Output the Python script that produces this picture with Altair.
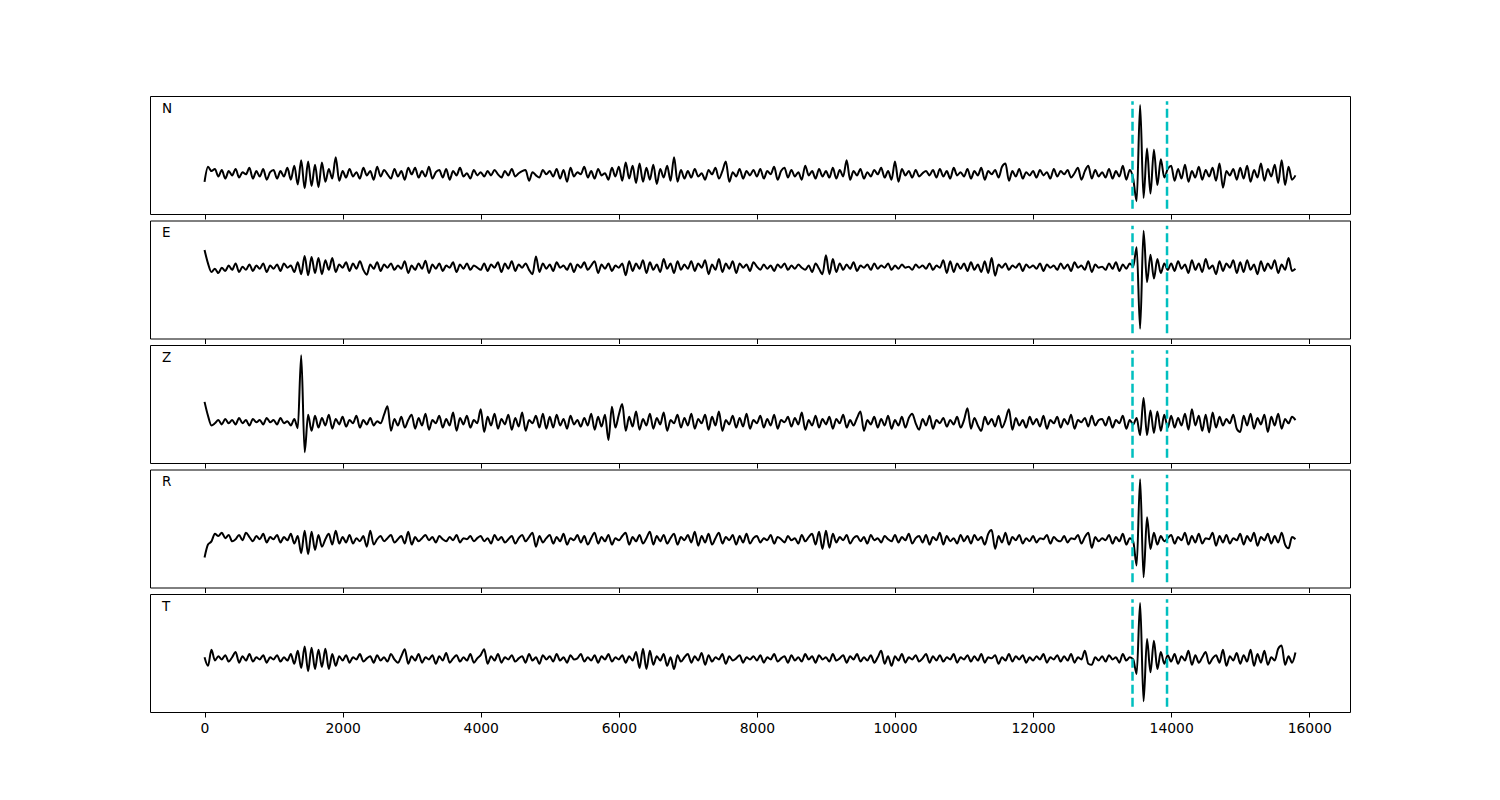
import altair as alt
import pandas as pd

# ---------------- data (amplitudes; pick lines span -100..100) -------------
SAMPLE_STEP = 50          # time step between samples
COMPONENTS = ["N", "E", "Z", "R", "T"]
PICK_TIMES = [13440, 13940]
PICK_LOW, PICK_HIGH = -100, 100
X_TICKS = [0, 2000, 4000, 6000, 8000, 10000, 12000, 14000, 16000]

trace_N = [
    -50, -22, -30, -26, -40, -28, -44, -30, -38, -26, -42, -32, -36, -24, -44, -30, -40, -26, -46, -32,
    -28, -44, -30, -40, -24, -46, -20, -55, -10, -62, -12, -58, -18, -60, -14, -50, -26, -44, -4, -48,
    -30, -42, -26, -40, -32, -44, -24, -38, -30, -46, -22, -40, -28, -36, -44, -26, -40, -30, -46, -24,
    -36, -24, -42, -30, -40, -22, -44, -32, -28, -42, -26, -46, -30, -38, -24, -40, -34, -44, -28, -38,
    -32, -40, -30, -38, -28, -36, -42, -30, -38, -26, -40, -34, -30, -28, -48, -32, -38, -42, -28, -36,
    -30, -40, -26, -44, -28, -50, -24, -40, -32, -36, -22, -42, -30, -44, -26, -38, -34, -46, -24, -40,
    -22, -48, -14, -44, -20, -52, -16, -50, -24, -46, -18, -54, -26, -42, -20, -48, -4, -50, -28, -44,
    -30, -42, -26, -40, -34, -46, -28, -36, -24, -44, -30, -12, -50, -32, -40, -26, -44, -30, -38, -28,
    -40, -26, -44, -30, -36, -22, -46, -30, -24, -42, -28, -40, -32, -46, -20, -38, -30, -44, -26, -40,
    -30, -42, -24, -44, -28, -40, -10, -46, -30, -38, -26, -44, -32, -40, -28, -36, -24, -42, -30, -46,
    -12, -50, -26, -38, -30, -42, -28, -40, -34, -30, -38, -28, -42, -26, -40, -30, -44, -24, -38, -32,
    -40, -26, -44, -30, -38, -24, -46, -30, -36, -28, -42, -22, -16, -48, -30, -40, -26, -44, -32, -38,
    -30, -42, -28, -38, -32, -44, -26, -40, -30, -36, -28, -42, -34, -24, -46, -30, -20, -44, -28, -40,
    -32, -42, -26, -44, -30, -40, -20, -46, -28, -44, -86, 93, -80, 12, -72, 10, -56, -8, -42, -26,
    -20, -48, -26, -44, -18, -50, -30, -42, -22, -46, -28, -40, -24, -48, -16, -61, -30, -38, -26, -46,
    -24, -44, -20, -50, -28, -42, -16, -48, -26, -40, -18, -52, -10, -56, -22, -46, -38,
]

trace_E = [
    55, 30, 14, 20, 12, 22, 16, 26, 18, 30, 14, 24, 18, 28, 16, 26, 20, 30, 14, 26,
    20, 28, 16, 30, 22, 26, 14, 32, 10, 44, 8, 42, 12, 40, 10, 36, 18, 40, 14, 28,
    22, 32, 16, 30, 20, 34, 18, 9, 28, 20, 32, 16, 28, 22, 30, 18, 26, 20, 34, 12,
    26, 18, 30, 20, 35, 12, 28, 20, 30, 16, 26, 22, 32, 14, 28, 20, 30, 18, 26, 22,
    18, 30, 16, 28, 22, 32, 14, 30, 20, 34, 16, 28, 22, 30, 18, 10, 43, 14, 30, 20,
    28, 16, 32, 22, 26, 18, 30, 14, 28, 22, 32, 18, 26, 34, 12, 28, 20, 30, 16, 26,
    22, 30, 8, 34, 16, 30, 20, 36, 12, 32, 18, 28, 14, 38, 20, 30, 12, 34, 18, 28,
    20, 34, 16, 30, 22, 36, 10, 28, 18, 38, 14, 30, 20, 34, 12, 30, 22, 28, 16, 32,
    24, 18, 28, 20, 26, 16, 28, 22, 30, 18, 26, 20, 28, 22, 18, 26, 14, 30, 20, 10,
    45, 10, 38, 14, 30, 18, 28, 20, 32, 16, 26, 22, 28, 18, 30, 20, 26, 22, 30, 18,
    26, 20, 28, 22, 24, 18, 28, 22, 26, 20, 30, 18, 26, 22, 36, 12, 34, 14, 30, 20,
    30, 16, 32, 18, 28, 14, 34, 12, 40, 7, 28, 22, 30, 18, 26, 22, 30, 16, 28, 22,
    26, 20, 30, 16, 28, 22, 26, 18, 30, 20, 28, 16, 32, 22, 26, 18, 34, 14, 28, 22,
    24, 18, 30, 20, 32, 16, 28, 20, 30, 24, 60, -92, 91, -5, 46, 2, 38, 12, 30, 18,
    30, 16, 34, 20, 28, 12, 36, 18, 30, 14, 38, 20, 26, 10, 34, 16, 30, 22, 36, 12,
    32, 14, 36, 18, 28, 10, 34, 16, 30, 20, 36, 12, 28, 18, 40, 16, 20,
]

trace_Z = [
    4, -22, -40, -36, -30, -38, -28, -36, -30, -38, -26, -36, -30, -40, -28, -34, -30, -38, -26, -34,
    -30, -38, -26, -36, -32, -40, -28, -45, 91, -90, -20, -50, -22, -44, -26, -40, -20, -46, -28, -38,
    -24, -42, -30, -36, -22, -44, -30, -38, -26, -40, -32, -36, -20, -4, -50, -28, -40, -24, -44, -30,
    -20, -46, -26, -40, -18, -48, -30, -36, -22, -44, -28, -40, -16, -50, -26, -38, -22, -44, -30, -36,
    -10, -52, -24, -40, -18, -46, -28, -38, -20, -48, -26, -42, -16, -50, -30, -36, -22, -44, -18, -46,
    -24, -44, -20, -40, -28, -46, -22, -38, -30, -42, -26, -40, -18, -48, -24, -42, -20, -67, -5, -44,
    -20, 0, -50, -24, -42, -14, -48, -28, -40, -18, -46, -26, -38, -16, -50, -30, -36, -20, -44, -26,
    -40, -18, -46, -28, -36, -20, -48, -24, -40, -14, -50, -30, -38, -22, -44, -26, -42, -18, -46, -30,
    -36, -22, -44, -28, -40, -20, -46, -30, -34, -24, -42, -26, -38, -16, -48, -30, -40, -22, -44, -28,
    -38, -24, -46, -28, -36, -20, -44, -30, -40, -26, -14, -50, -30, -38, -24, -44, -28, -40, -22, -46,
    -30, -40, -24, -44, -26, -18, -36, -48, -28, -40, -22, -46, -30, -36, -26, -42, -30, -38, -24, -44,
    -30, -8, -46, -26, -40, -50, -24, -38, -28, -42, -22, -44, -30, -10, -48, -26, -40, -30, -44, -24,
    -38, -28, -42, -22, -46, -30, -36, -24, -44, -28, -38, -20, -46, -30, -34, -26, -42, -22, -40, -30,
    -28, -40, -24, -44, -30, -36, -22, -46, -30, -38, -26, -58, 11, -58, -12, -54, -14, -50, -20, -44,
    -22, -44, -26, -40, -18, -48, -10, -40, -22, -50, -20, -53, -16, -44, -24, -40, -28, -36, -20, -46,
    -52, -22, -40, -18, -46, -26, -38, -20, -52, -24, -40, -18, -46, -28, -36, -24, -30,
]

trace_R = [
    -54, -30, -24, -10, -14, -8, -18, -12, -24, -20, -12, -22, -8, -16, -24, -14, -20, -10, -26, -16,
    -20, -12, -26, -16, -22, -10, -28, -14, -46, -4, -48, -6, -40, -12, -34, -20, -10, -30, -4, -28,
    -16, -26, -12, -28, -18, -24, -14, -34, -4, -30, -20, -14, -24, -18, -12, -26, -20, -14, -28, -6,
    -30, -16, -24, -18, -12, -22, -16, -26, -14, -20, -24, -16, -22, -12, -26, -18, -20, -14, -24, -18,
    -14, -24, -18, -28, -12, -22, -16, -26, -20, -14, -28, -18, -12, -24, -16, -8, -34, -14, -26, -18,
    -12, -28, -16, -24, -10, -30, -18, -22, -12, -26, -14, -30, -18, -8, -28, -16, -24, -12, -30, -18,
    -22, -14, -8, -30, -16, -24, -12, -28, -18, -6, -30, -14, -24, -12, -28, -18, -10, -30, -16, -22,
    -12, -26, -6, -32, -14, -26, -10, -30, -18, -8, -28, -16, -22, -12, -30, -14, -26, -10, -28, -18,
    -14, -26, -18, -22, -12, -28, -16, -20, -26, -14, -22, -18, -28, -12, -24, -16, -10, -30, -6, -38,
    -4, -36, -10, -26, -16, -22, -12, -28, -18, -14, -24, -16, -28, -12, -22, -18, -26, -14, -20, -24,
    -12, -26, -16, -22, -10, -28, -18, -14, -26, -12, -30, -16, -22, -8, -30, -14, -24, -18, -28, -12,
    -24, -14, -28, -12, -22, -16, -30, -10, -3, -38, -14, -26, -8, -30, -16, -22, -12, -28, -18, -24,
    -14, -26, -18, -20, -12, -28, -16, -22, -24, -14, -26, -18, -20, -12, -28, -16, -8, -36, -16, -24,
    -18, -22, -12, -28, -16, -24, -10, -30, -18, -24, -69, 92, -91, 21, -38, -8, -30, -14, -24, -18,
    -12, -28, -16, -22, -8, -30, -14, -26, -10, -28, -18, -20, -8, -32, -14, -26, -12, -28, -18, -22,
    -10, -30, -14, -24, -8, -32, -16, -22, -10, -28, -14, -26, -8, -30, -37, -16, -20,
]

trace_T = [
    -8, -24, 6, -14, -6, -12, -4, -16, -8, 2, -18, -6, -14, -2, -16, -8, -12, -4, -18, -8,
    -12, -4, -16, -8, -14, -2, -20, 4, -28, 12, -34, 10, -30, 6, -26, 8, -30, -2, -24, -6,
    -14, -4, -18, -8, -12, -2, -16, -10, -6, -18, -4, -14, -8, -16, -2, -12, -18, -6, 7, -20,
    -6, -14, -2, -18, -8, -12, -4, -20, -6, -14, 0, -18, -10, -4, -16, -8, -14, -2, -18, -10,
    -4, 7, -20, -6, -14, -2, -18, -8, -12, -4, -16, -10, -6, -18, -2, -14, -8, -20, -4, -12,
    -6, -16, -2, -14, -8, -18, -4, -12, -10, -2, -16, -8, -14, -4, -18, -6, -12, -2, -16, -8,
    -12, -4, -18, -6, -14, 2, -28, 8, -30, 4, -22, -6, -14, -2, -24, -8, -30, -4, -16, -8,
    -2, -18, -6, -14, 0, -22, -4, -16, -8, -12, -2, -20, -6, -14, -10, -4, -18, -8, -12, -6,
    -14, -4, -18, -8, -12, -2, -16, -10, -6, -18, -4, -14, -8, -16, -2, -12, -6, -18, -4, -12,
    -8, -16, -2, -14, -10, -4, -18, -6, -12, -2, -16, -8, -14, -4, -18, -8, 4, -20, -6, -24,
    -6, -14, -2, -18, -8, -12, -4, -16, -10, -2, -18, -6, -14, -4, -16, -8, -12, -2, -18, -8,
    -12, -4, -16, -6, -14, -2, -18, -8, -10, -4, -20, -8, -14, -2, -16, -6, -12, -4, -18, -8,
    -14, -6, -12, -2, -18, -8, -12, -4, -16, -6, -14, -2, -18, -8, -12, 4, -20, -22, -8, -14,
    -6, -16, -4, -12, -8, -18, -2, -14, -8, -12, -39, 93, -90, 26, -36, 23, -30, 2, -20, -4,
    -16, -2, -20, -6, -14, 4, -22, -4, -18, -8, 2, -20, -10, -4, -18, 6, -24, -6, -14, 0,
    -20, -4, -16, 6, -24, -2, -18, 4, -22, -8, -14, 8, 14, -22, -6, -18, 1,
]

TRACES = {"N": trace_N, "E": trace_E, "Z": trace_Z, "R": trace_R, "T": trace_T}

# ---------------- chart ----------------
PANEL_W, PANEL_H = 1200, 118
X_DOMAIN = [-790, 16590]
Y_DOMAIN = [-110, 110]
FRAME = alt.ViewBackground(stroke="black", strokeWidth=1, fill="white")

picks_df = pd.DataFrame({"t": PICK_TIMES, "y1": [PICK_LOW] * len(PICK_TIMES),
                         "y2": [PICK_HIGH] * len(PICK_TIMES)})

panels = []
for i, comp in enumerate(COMPONENTS):
    vals = TRACES[comp]
    df = pd.DataFrame({"t": [k * SAMPLE_STEP for k in range(len(vals))], "amp": vals})
    last = i == len(COMPONENTS) - 1
    x_axis = alt.Axis(values=X_TICKS, labels=last, ticks=True, title=None,
                      format="d", domain=False, grid=False,
                      labelFont="DejaVu Sans", labelFontSize=13.9, labelColor="black",
                      tickColor="black", tickWidth=1, tickSize=5, labelPadding=4)
    xenc = alt.X("t:Q", scale=alt.Scale(domain=X_DOMAIN, nice=False, zero=False), axis=x_axis)
    yenc = alt.Y("amp:Q", scale=alt.Scale(domain=Y_DOMAIN, nice=False, zero=False), axis=None)

    line = alt.Chart(df).mark_line(color="black", strokeWidth=2,
                                   interpolate="monotone").encode(x=xenc, y=yenc)
    picks = alt.Chart(picks_df).mark_rule(color="#00BFBF", strokeWidth=2.5, strokeDash=[9, 4]).encode(
        x=alt.X("t:Q"), y=alt.Y("y1:Q"), y2="y2:Q")
    label = alt.Chart(pd.DataFrame({"name": [comp]})).mark_text(
        align="left", baseline="middle", fontSize=13.5, font="DejaVu Sans", color="black"
    ).encode(x=alt.value(12), y=alt.value(12.5), text="name:N")

    panels.append(alt.layer(line, picks, label).properties(
        width=PANEL_W, height=PANEL_H, view=FRAME))

chart = alt.vconcat(*panels, spacing=6.5, bounds="flush").properties(
    padding={"left": 141, "top": 87, "right": 20, "bottom": 20}
).configure_view(stroke="black", strokeWidth=1).configure(background="white")

chart.save("out.html", embed_options={"renderer": "svg", "actions": False})
